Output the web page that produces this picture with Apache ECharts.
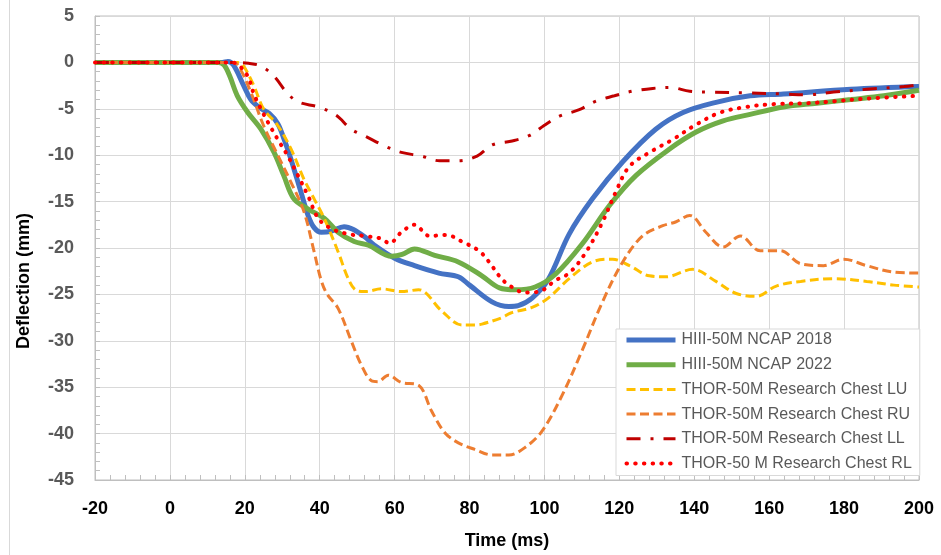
<!DOCTYPE html>
<html>
<head>
<meta charset="utf-8">
<script src="https://cdn.jsdelivr.net/npm/echarts@6/dist/echarts.min.js"></script>
<style>html,body{margin:0;padding:0;background:#fff}#c{width:941px;height:555px}</style>
</head>
<body>
<div id="c"></div>
<script>
var seriesNames = ['HIII-50M NCAP 2018','HIII-50M NCAP 2022','THOR-50M Research Chest LU','THOR-50M Research Chest RU','THOR-50M Research Chest LL','THOR-50 M Research Chest RL'];

var t2018 = [-20,14,15.5,17,19.7,21.6,24,26.5,28.8,30.5,32.3,35,36.9,38.5,40.4,43,46.5,49,52,54.6,60,65.3,71.8,77,80,86,90.5,93,96.7,101,106.6,112.8,120.9,129.7,137,145.8,154.9,163.8,181.8,200];
var v2018 = [0,0,0.1,-0.3,-2.5,-4,-4.9,-5.5,-6.6,-8.3,-10.4,-14,-16.5,-17.8,-18.3,-18.2,-17.7,-18,-18.8,-19.7,-21.1,-21.9,-22.7,-23.1,-24,-25.8,-26.3,-26.2,-25.4,-23.4,-18.5,-14.7,-10.7,-7.2,-5.4,-4.3,-3.6,-3.4,-2.9,-2.6];

var t2022 = [-20,13,14.5,16,18,20.8,24.3,27.8,30.4,33.1,36.9,41.2,44.9,49.2,53,59.2,62,65.3,70.7,77,83.3,88,92.2,97.5,103,110,117.4,124.4,133.5,140.5,147.7,154.9,163.8,172.7,181.8,190.6,200];
var v2022 = [0,0,-0.3,-1.5,-3.6,-5.4,-7.2,-9.7,-12.2,-14.7,-15.8,-16.8,-18.3,-19.3,-19.7,-20.9,-20.7,-20.1,-20.8,-21.5,-23,-24.3,-24.5,-24.2,-22.8,-19.6,-15.4,-12.2,-9.3,-7.5,-6.3,-5.6,-4.8,-4.4,-4.0,-3.6,-3.0];

var tLU = [-20,18,19.5,22.4,25,28.8,32.3,35.8,38.5,41.2,44.9,47.6,49.5,52,56.5,61.8,66.4,72.6,78,81.4,83.3,88.7,91,96.7,101,106.6,112.8,118.2,122.7,128,132.4,139.6,145.8,151.2,156.6,161.9,168.4,177.2,186,193.3,200];
var vLU = [0,0,-0.3,-2.5,-5,-6.8,-9.3,-12.6,-14.7,-16.8,-20.4,-23.3,-24.5,-24.7,-24.4,-24.7,-24.5,-26.8,-28.3,-28.3,-28.2,-27.5,-27,-26.4,-25.4,-23.3,-21.5,-21.2,-21.9,-23,-23.1,-22.3,-23.6,-24.9,-25.2,-24.1,-23.6,-23.3,-23.6,-24.0,-24.2];

var tRU = [-20,17,18.5,21.6,25,28.8,32.3,35.8,38.5,40.4,42,44.9,48.4,51.1,53.8,55.5,58.3,61.8,66.4,69.9,73.4,77,81.4,86,90.5,94.8,99.4,104.8,110,115.5,120.9,126.2,131.6,135,138.8,143.1,147.7,152.3,157.6,163,168.4,174.5,179.9,186,193.3,200];
var vRU = [0,0,-0.5,-3.2,-6.8,-10,-12.9,-16.1,-20.4,-23.5,-25,-26.5,-30,-32.6,-34.3,-34.4,-33.7,-34.5,-34.8,-37.6,-39.9,-41,-41.7,-42.3,-42.3,-41.5,-39.7,-35.8,-31.1,-25.8,-21.5,-18.7,-17.6,-17.2,-16.5,-18.3,-19.9,-18.7,-20.3,-20.3,-21.7,-21.9,-21.2,-21.9,-22.6,-22.7];

var tLL = [-20,18,21,24.3,27.8,31.5,34.5,39.6,44.4,48.4,52.4,57.3,61.8,67.2,72,77,82,86,91,95.9,99.9,104,109.3,113.6,118.7,123.5,128.9,133.5,138.8,145,154.9,163.8,170,177.2,186,196,200];
var vLL = [0,0,-0.1,-0.4,-1.5,-3.4,-4.3,-4.8,-5.7,-7.2,-8.0,-9.0,-9.7,-10.1,-10.6,-10.6,-10.1,-8.9,-8.5,-7.9,-6.8,-5.8,-5.1,-4.2,-3.6,-3.1,-2.8,-2.7,-3.1,-3.2,-3.3,-3.4,-3.5,-3.2,-2.9,-2.6,-2.4];

var tRL = [-20,16,18,20.8,22.4,24.3,26.1,28.8,31.5,34.2,36.9,39.6,43,47.6,51.9,56.5,58.6,61.8,65.3,69.3,73.9,77.9,82.5,85.2,88.1,90.5,94.8,98.6,102.9,106.6,111,115.5,119,122.7,128.9,134.3,140.5,146.9,153.9,161.1,170,177.2,186,200];
var vRL = [0,0,-0.2,-1.5,-3.4,-5,-6.4,-8.3,-10.1,-12.2,-14.4,-16.8,-17.9,-18.5,-18.7,-19,-19.5,-18.3,-17.5,-18.7,-18.6,-19.3,-20.3,-21.5,-23.1,-24,-24.8,-24.7,-23.5,-22.7,-20.5,-17.2,-14,-11.2,-9.5,-8.3,-6.7,-5.4,-4.8,-4.5,-4.4,-4.2,-3.9,-3.6];

function pairs(t, v) { return t.map(function (x, i) { return [x, v[i]]; }); }

var styles = [
  {color:'#4472C4', width:5, type:'solid'},
  {color:'#70AD47', width:5, type:'solid'},
  {color:'#FFC000', width:3, type:[9,4.5]},
  {color:'#ED7D31', width:3, type:[9,4.5]},
  {color:'#C00000', width:3, type:[14,10,3,10]},
  {color:'#FF0000', width:4, type:[0.5,8.2], cap:'round'}
];
var datas = [pairs(t2018,v2018), pairs(t2022,v2022), pairs(tLU,vLU), pairs(tRU,vRU), pairs(tLL,vLL), pairs(tRL,vRL)];

var chart = echarts.init(document.getElementById('c'), null, {renderer:'canvas'});
chart.setOption({
  animation: false,
  backgroundColor: '#fff',
  graphic: [{type:'line', shape:{x1:9.5,y1:0,x2:9.5,y2:555}, style:{stroke:'#d9d9d9', lineWidth:1}}],
  grid: {left:95, right:22, top:16, bottom:73, show:true, borderColor:'#bfbfbf', borderWidth:1},
  legend: {
    orient:'vertical', left:616, top:329,
    padding:[3,8,4,8], itemGap:8.7, itemWidth:49, itemHeight:16,
    backgroundColor:'#fff', borderColor:'#d9d9d9', borderWidth:1,
    itemStyle:{opacity:0},
    textStyle:{color:'#595959', fontSize:16, fontFamily:'Liberation Sans', padding:[0,0,0,1]},
    data: seriesNames.map(function (n, i) {
      var s = styles[i];
      return {name:n, lineStyle:{color:s.color, width:s.width, type:s.type, cap:s.cap || 'butt', opacity:1}, itemStyle:{opacity:0}};
    })
  },
  xAxis: {
    type:'value', min:-20, max:200, interval:20,
    name:'Time (ms)', nameLocation:'middle', nameGap:52,
    nameTextStyle:{color:'#000', fontSize:18, fontWeight:'bold', fontFamily:'Liberation Sans'},
    axisLine:{show:true, onZero:false, lineStyle:{color:'#bfbfbf'}},
    axisTick:{show:true, inside:true, length:5, lineStyle:{color:'#bfbfbf'}},
    minorTick:{show:true, splitNumber:5, length:5, lineStyle:{color:'#bfbfbf'}},
    axisLabel:{color:'#000', fontSize:18, fontWeight:'bold', fontFamily:'Liberation Sans', margin:20},
    splitLine:{show:true, lineStyle:{color:'#d9d9d9', width:1}}
  },
  yAxis: {
    type:'value', min:-45, max:5, interval:5,
    name:'Deflection (mm)', nameLocation:'middle', nameGap:62,
    nameTextStyle:{color:'#000', fontSize:18, fontWeight:'bold', fontFamily:'Liberation Sans', padding:[0,66,0,0]},
    axisLine:{show:true, onZero:false, lineStyle:{color:'#bfbfbf'}},
    axisTick:{show:true, inside:true, length:5, lineStyle:{color:'#bfbfbf'}},
    minorTick:{show:true, splitNumber:5, length:5, lineStyle:{color:'#bfbfbf'}},
    axisLabel:{color:'#595959', fontSize:18, fontWeight:'bold', fontFamily:'Liberation Sans', margin:21},
    splitLine:{show:true, lineStyle:{color:'#d9d9d9', width:1}}
  },
  series: seriesNames.map(function (n, i) {
    var s = styles[i];
    return {
      name:n, type:'line', data:datas[i], smooth:0.35, symbol:'none', showSymbol:false,
      lineStyle:{color:s.color, width:s.width, type:s.type, cap:s.cap || 'butt'},
      itemStyle:{color:s.color}
    };
  })
});
</script>
</body>
</html>
